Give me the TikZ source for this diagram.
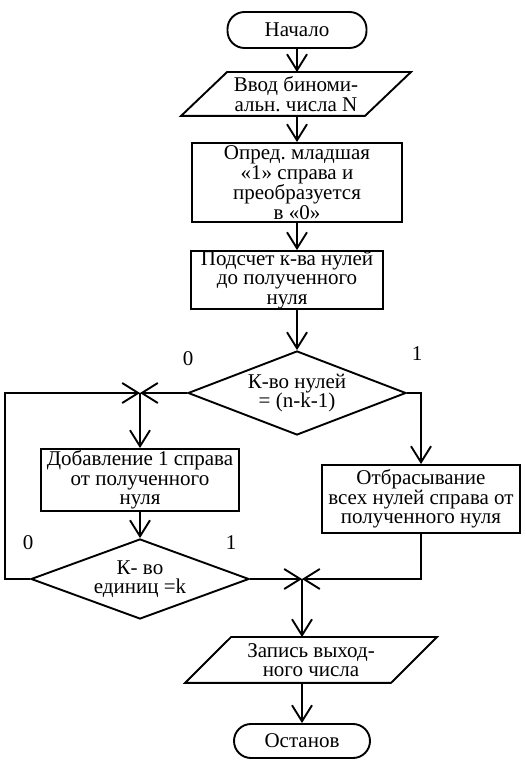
\documentclass[tikz,border=0pt]{standalone}
\usepackage{fontspec}
\setmainfont{Liberation Serif}
\usetikzlibrary{shapes.geometric,arrows.meta}
\tikzset{
  blockbox/.style={draw=drawColor,line width=1.9pt,rectangle,inner sep=0pt,align=center,font=\fontsize{21}{19.5}\selectfont},
  termbox/.style={blockbox,rounded corners=17pt},
  iobox/.style={blockbox,draw=none},
  ioedge/.style={draw=drawColor,line width=1.9pt,line join=miter},
  choicebox/.style={blockbox,diamond,aspect=2.6},
  flowline/.style={draw=drawColor,line width=1.9pt,-{Straight Barb[length=16pt,width=20pt]}},
  lbl/.style={text=drawColor,inner sep=0pt,font=\fontsize{21}{21}\selectfont}
}
\begin{document}
\begin{tikzpicture}[x=1pt,y=1pt]
\definecolor{fillColor}{RGB}{255,255,255}
\definecolor{drawColor}{RGB}{0,0,0}
\path[use as bounding box,fill=fillColor] (0,0) rectangle (526,760);

\node[termbox,minimum width=139pt,minimum height=36pt] (start) at (297,730) {Начало};

\node[iobox,minimum width=182pt,minimum height=42pt] (inp) at (296,666) {Ввод биноми-\\альн.\ числа N};
\path[ioedge] ([xshift=-23pt]inp.south west) -- ([xshift=-23pt]inp.south east) --
	([xshift=23pt]inp.north east) -- ([xshift=23pt]inp.north west) -- cycle;

\node[blockbox,minimum width=210pt,minimum height=79pt] (blk1) at (297,577.5) {Опред.\ младшая\\«1» справа и\\преобразуется\\в «0»};

\node[blockbox,minimum width=192pt,minimum height=56pt] (blk2) at (287,480) {Подсчет к-ва нулей\\до полученного\\нуля};

\node[choicebox,minimum width=218pt,minimum height=84pt] (dec1) at (297,367) {К-во нулей\\= (n-k-1)};

\coordinate (jct1) at (140,367);

\node[blockbox,minimum width=198pt,minimum height=62pt] (blk4) at (140,280) {Добавление 1 справа\\от полученного\\нуля};

\node[blockbox,minimum width=198pt,minimum height=68pt] (blk3) at (421,261) {Отбрасывание\\всех нулей справа от\\полученного нуля};

\node[choicebox,minimum width=218pt,minimum height=80pt] (dec2) at (140,181) {К- во\\единиц =k};

\coordinate (jct2) at (302,181);

\node[iobox,minimum width=204pt,minimum height=44pt] (out) at (311,100) {Запись выход-\\ного числа};
\path[ioedge] ([xshift=-23pt]out.south west) -- ([xshift=-23pt]out.south east) --
	([xshift=23pt]out.north east) -- ([xshift=23pt]out.north west) -- cycle;

\node[termbox,minimum width=136pt,minimum height=34pt] (stop) at (302,19) {Останов};

\node[lbl] (zero1) at (188,401) {0};
\node[lbl] (one1) at (417,406) {1};
\node[lbl] (zero2) at (28,217) {0};
\node[lbl] (one2) at (231,217) {1};

\draw[flowline] (start) -- (inp.north -| start.south);
\draw[flowline] (inp.south -| start.south) -- (blk1);
\draw[flowline] (blk1.south) -- (blk1.south |- blk2.north);
\draw[flowline] (blk2.south -| dec1.north) -- (dec1.north);
\draw[flowline] (dec1.east) -| (blk3.north);
\draw[flowline] (dec1.west) -- (jct1);
\draw[flowline] (dec2.west) -- ++(-25,0) |- (jct1);
\draw[flowline] (jct1) -- (blk4.north);
\draw[flowline] (blk4) -- (dec2);
\draw[flowline] (dec2.east) -- (jct2);
\draw[flowline] (blk3.south) |- (jct2);
\draw[flowline] (jct2) -- (jct2 |- out.north);
\draw[flowline] (out.south -| stop.north) -- (stop.north);
\end{tikzpicture}
\end{document}
